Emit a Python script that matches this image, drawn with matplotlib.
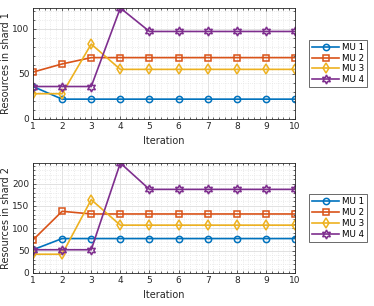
import matplotlib.pyplot as plt
from matplotlib.ticker import MultipleLocator

iterations = [1, 2, 3, 4, 5, 6, 7, 8, 9, 10]
labels = ['MU 1', 'MU 2', 'MU 3', 'MU 4']

shard1 = [
    [36, 22, 22, 22, 22, 22, 22, 22, 22, 22],
    [52, 61, 68, 68, 68, 68, 68, 68, 68, 68],
    [28, 28, 83, 55, 55, 55, 55, 55, 55, 55],
    [36, 36, 36, 123, 97, 97, 97, 97, 97, 97],
]
shard2 = [
    [52, 77, 77, 77, 77, 77, 77, 77, 77, 77],
    [74, 138, 132, 132, 132, 132, 132, 132, 132, 132],
    [42, 42, 164, 107, 107, 107, 107, 107, 107, 107],
    [52, 52, 52, 246, 187, 187, 187, 187, 187, 187],
]

colors = ['#0072BD', '#D95319', '#EDB120', '#7E2F8E']
markers = ['o', 's', 'd', (6, 1, 0)]
msizes = [4.5, 4, 5, 6.5]

plt.rcParams['font.family'] = 'DejaVu Sans'
fig = plt.figure(figsize=(3.74, 3.06), dpi=100)
ax1 = fig.add_axes([33 / 374, 1 - 119 / 306, 262 / 374, 111 / 306])
ax2 = fig.add_axes([33 / 374, 1 - 273 / 306, 262 / 374, 110 / 306])

def draw(ax, data, ymax, ystep, ylabel):
    for i in range(4):
        ax.plot(iterations, data[i], color=colors[i], marker=markers[i],
                markersize=msizes[i], markerfacecolor='none',
                markeredgewidth=1.1, linewidth=1.2, label=labels[i])
    ax.set_xlim(1, 10)
    ax.set_ylim(0, ymax)
    ax.xaxis.set_major_locator(MultipleLocator(1))
    ax.xaxis.set_minor_locator(MultipleLocator(0.2))
    ax.yaxis.set_major_locator(MultipleLocator(ystep))
    ax.yaxis.set_minor_locator(MultipleLocator(ystep / 5))
    ax.grid(True, which='major', color='#dddddd', linewidth=0.6)
    ax.grid(True, which='minor', color='#e4e4e4', linestyle=':', linewidth=0.6)
    ax.set_axisbelow(True)
    ax.tick_params(which='both', direction='in', top=True, right=True,
                   labelsize=6.5, colors='#262626', length=2.5, width=0.5, pad=2.5)
    ax.tick_params(which='minor', length=1.5)
    for s in ax.spines.values():
        s.set_color('#262626')
        s.set_linewidth(0.6)
    ax.set_xlabel('Iteration', fontsize=7, color='#262626', labelpad=3)
    ax.set_ylabel(ylabel, fontsize=7, color='#262626', labelpad=1)
    leg = ax.legend(loc='center left', bbox_to_anchor=(1.053, 0.5),
                    fontsize=6.3, frameon=True, fancybox=False,
                    handlelength=3.1, borderpad=0.35, labelspacing=0.2,
                    handletextpad=0.3, borderaxespad=0)
    leg.get_frame().set_edgecolor('#262626')
    leg.get_frame().set_linewidth(0.6)

draw(ax1, shard1, 123, 50, 'Resources in shard 1')
draw(ax2, shard2, 246, 50, 'Resources in shard 2')

fig.savefig('out.png', dpi=100)
